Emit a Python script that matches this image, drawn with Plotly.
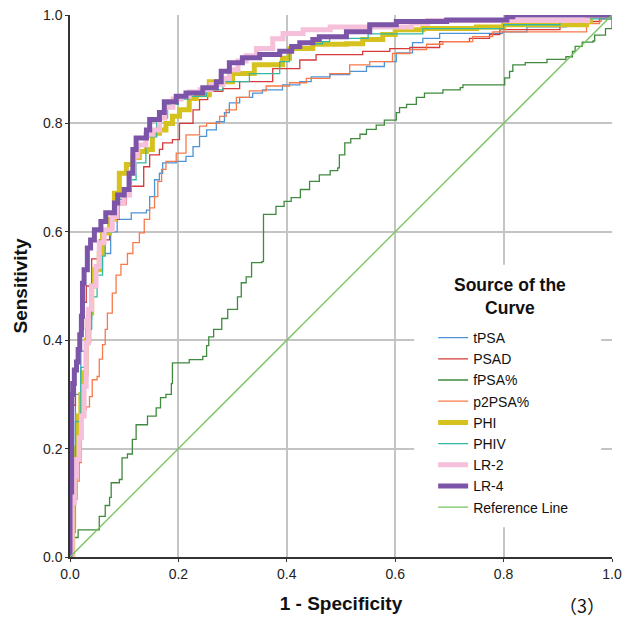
import plotly.graph_objects as go

# ROC coordinates (1 - specificity, sensitivity) for each marker
tpsa_fpr = [0, 0.005, 0.01, 0.02, 0.03, 0.04, 0.05, 0.06, 0.075, 0.087, 0.113, 0.141, 0.147, 0.156, 0.165, 0.171, 0.196, 0.214, 0.227, 0.239, 0.252, 0.27, 0.285, 0.294, 0.313, 0.337, 0.355, 0.392, 0.424, 0.445, 0.48, 0.516, 0.547, 0.58, 0.602, 0.632, 0.651, 0.682, 0.798, 0.843, 0.916, 0.959, 1.0]
tpsa_tpr = [0, 0.2, 0.3, 0.38, 0.44, 0.5, 0.53, 0.56, 0.6, 0.623, 0.635, 0.64, 0.665, 0.696, 0.708, 0.727, 0.73, 0.739, 0.757, 0.776, 0.788, 0.803, 0.82, 0.838, 0.848, 0.856, 0.862, 0.871, 0.877, 0.886, 0.89, 0.896, 0.905, 0.914, 0.93, 0.949, 0.957, 0.966, 0.969, 0.978, 0.988, 0.995, 1.0]

psad_fpr = [0, 0.003, 0.006, 0.01, 0.015, 0.02, 0.025, 0.03, 0.04, 0.054, 0.073, 0.091, 0.104, 0.109, 0.136, 0.147, 0.165, 0.171, 0.189, 0.202, 0.227, 0.239, 0.254, 0.282, 0.313, 0.374, 0.424, 0.454, 0.54, 0.59, 0.627, 0.682, 0.737, 0.774, 0.793, 0.904, 0.977, 1.0]
psad_tpr = [0, 0.15, 0.28, 0.35, 0.38, 0.42, 0.47, 0.5, 0.55, 0.585, 0.623, 0.65, 0.678, 0.684, 0.72, 0.742, 0.752, 0.764, 0.77, 0.8, 0.825, 0.844, 0.859, 0.864, 0.877, 0.901, 0.917, 0.927, 0.933, 0.938, 0.94, 0.951, 0.957, 0.964, 0.973, 0.988, 0.993, 1.0]

fpsa_fpr = [0, 0.008, 0.015, 0.048, 0.054, 0.065, 0.073, 0.076, 0.091, 0.096, 0.106, 0.115, 0.122, 0.141, 0.143, 0.159, 0.167, 0.177, 0.187, 0.189, 0.22, 0.239, 0.245, 0.252, 0.256, 0.265, 0.28, 0.291, 0.305, 0.309, 0.316, 0.325, 0.335, 0.354, 0.357, 0.377, 0.38, 0.395, 0.408, 0.425, 0.442, 0.46, 0.48, 0.494, 0.497, 0.507, 0.518, 0.535, 0.547, 0.565, 0.58, 0.602, 0.608, 0.621, 0.639, 0.654, 0.688, 0.72, 0.725, 0.798, 0.802, 0.811, 0.817, 0.84, 0.88, 0.915, 0.927, 0.932, 0.945, 0.965, 0.968, 0.988, 1.0, 1.0]
fpsa_tpr = [0, 0.036, 0.05, 0.05, 0.075, 0.095, 0.11, 0.137, 0.143, 0.183, 0.19, 0.217, 0.244, 0.244, 0.26, 0.275, 0.294, 0.3, 0.32, 0.358, 0.364, 0.364, 0.37, 0.39, 0.406, 0.42, 0.44, 0.457, 0.457, 0.48, 0.506, 0.517, 0.543, 0.545, 0.632, 0.632, 0.647, 0.656, 0.663, 0.678, 0.693, 0.705, 0.713, 0.718, 0.742, 0.764, 0.772, 0.78, 0.789, 0.797, 0.806, 0.82, 0.829, 0.835, 0.848, 0.856, 0.862, 0.866, 0.871, 0.871, 0.884, 0.896, 0.908, 0.912, 0.918, 0.923, 0.933, 0.942, 0.95, 0.952, 0.963, 0.975, 0.978, 1.0]

p2psa_fpr = [0, 0.004, 0.008, 0.01, 0.013, 0.017, 0.021, 0.023, 0.03, 0.036, 0.041, 0.05, 0.054, 0.06, 0.065, 0.069, 0.078, 0.085, 0.094, 0.106, 0.116, 0.128, 0.137, 0.147, 0.156, 0.162, 0.169, 0.177, 0.196, 0.214, 0.239, 0.252, 0.276, 0.288, 0.307, 0.331, 0.362, 0.405, 0.436, 0.479, 0.516, 0.553, 0.595, 0.627, 0.658, 0.688, 0.743, 0.78, 0.953, 0.977, 0.98, 1.0]
p2psa_tpr = [0, 0.02, 0.045, 0.106, 0.14, 0.174, 0.228, 0.272, 0.277, 0.296, 0.327, 0.333, 0.365, 0.392, 0.42, 0.45, 0.487, 0.52, 0.54, 0.56, 0.58, 0.598, 0.623, 0.644, 0.665, 0.693, 0.715, 0.73, 0.745, 0.779, 0.795, 0.8, 0.813, 0.825, 0.848, 0.86, 0.869, 0.875, 0.883, 0.892, 0.908, 0.914, 0.929, 0.936, 0.946, 0.951, 0.96, 0.969, 0.984, 0.988, 1.0, 1.0]

phi_fpr = [0, 0.005, 0.01, 0.015, 0.02, 0.025, 0.03, 0.035, 0.04, 0.045, 0.054, 0.06, 0.073, 0.082, 0.091, 0.104, 0.116, 0.128, 0.141, 0.152, 0.165, 0.177, 0.189, 0.202, 0.22, 0.233, 0.257, 0.3, 0.34, 0.392, 0.405, 0.448, 0.51, 0.54, 0.577, 0.6, 0.651, 0.75, 0.8, 0.953, 0.96, 1.0]
phi_tpr = [0, 0.12, 0.2, 0.26, 0.3, 0.34, 0.4, 0.45, 0.5, 0.53, 0.56, 0.598, 0.623, 0.671, 0.708, 0.724, 0.737, 0.748, 0.752, 0.782, 0.788, 0.8, 0.813, 0.825, 0.846, 0.853, 0.877, 0.892, 0.908, 0.92, 0.938, 0.946, 0.947, 0.955, 0.964, 0.973, 0.975, 0.978, 0.982, 0.988, 1.0, 1.0]

phiv_fpr = [0, 0.004, 0.01, 0.02, 0.03, 0.04, 0.05, 0.06, 0.065, 0.08, 0.09, 0.1, 0.113, 0.122, 0.14, 0.16, 0.18, 0.2, 0.22, 0.252, 0.282, 0.331, 0.387, 0.405, 0.424, 0.466, 0.479, 0.55, 0.651, 0.8, 0.904, 0.946, 1.0]
phiv_tpr = [0, 0.12, 0.25, 0.35, 0.42, 0.48, 0.52, 0.555, 0.6, 0.63, 0.66, 0.68, 0.696, 0.727, 0.775, 0.81, 0.835, 0.845, 0.85, 0.862, 0.877, 0.892, 0.914, 0.938, 0.947, 0.951, 0.957, 0.965, 0.975, 0.982, 0.988, 0.993, 1.0]

lr2_fpr = [0, 0.004, 0.008, 0.012, 0.017, 0.021, 0.026, 0.03, 0.034, 0.04, 0.048, 0.054, 0.063, 0.078, 0.087, 0.1, 0.11, 0.118, 0.125, 0.14, 0.152, 0.165, 0.175, 0.19, 0.205, 0.22, 0.24, 0.26, 0.282, 0.294, 0.31, 0.325, 0.344, 0.374, 0.393, 0.43, 0.48, 0.63, 0.66, 0.955, 1.0]
lr2_tpr = [0, 0.1, 0.15, 0.18, 0.22, 0.26, 0.315, 0.395, 0.457, 0.5, 0.536, 0.58, 0.604, 0.628, 0.653, 0.668, 0.71, 0.74, 0.76, 0.78, 0.788, 0.81, 0.83, 0.845, 0.85, 0.858, 0.862, 0.872, 0.883, 0.899, 0.915, 0.925, 0.938, 0.956, 0.966, 0.973, 0.978, 0.985, 0.99, 1.0, 1.0]

lr4_fpr = [0, 0.0, 0.003, 0.005, 0.008, 0.012, 0.015, 0.018, 0.021, 0.023, 0.026, 0.032, 0.038, 0.045, 0.057, 0.066, 0.082, 0.088, 0.1, 0.109, 0.116, 0.122, 0.141, 0.147, 0.165, 0.174, 0.196, 0.214, 0.245, 0.27, 0.279, 0.294, 0.318, 0.35, 0.387, 0.409, 0.424, 0.448, 0.46, 0.51, 0.553, 0.602, 0.695, 0.806, 0.817, 1.0]
lr4_tpr = [0, 0.12, 0.3, 0.32, 0.345, 0.36, 0.383, 0.41, 0.444, 0.505, 0.53, 0.57, 0.585, 0.604, 0.619, 0.635, 0.653, 0.668, 0.678, 0.708, 0.752, 0.773, 0.788, 0.807, 0.82, 0.84, 0.85, 0.856, 0.866, 0.877, 0.896, 0.912, 0.921, 0.927, 0.933, 0.942, 0.949, 0.955, 0.96, 0.969, 0.982, 0.988, 0.991, 0.997, 1.0, 1.0]

ref_fpr = [0, 1]
ref_tpr = [0, 1]

axis_ticks = [0.0, 0.2, 0.4, 0.6, 0.8, 1.0]

series = [
    ("tPSA", tpsa_fpr, tpsa_tpr, "#4d93d6", 1.3),
    ("PSAD", psad_fpr, psad_tpr, "#d63a3a", 1.3),
    ("fPSA%", fpsa_fpr, fpsa_tpr, "#3f8a3f", 1.3),
    ("p2PSA%", p2psa_fpr, p2psa_tpr, "#f77a48", 1.3),
    ("PHI", phi_fpr, phi_tpr, "#d6c21f", 5),
    ("PHIV", phiv_fpr, phiv_tpr, "#33b8a2", 1.3),
    ("LR-2", lr2_fpr, lr2_tpr, "#f6c0da", 5),
    ("LR-4", lr4_fpr, lr4_tpr, "#7c54a8", 5),
]

font_family = "Liberation Sans, Arial, sans-serif"

fig = go.Figure()
for name, fx, fy, color, width in series:
    fig.add_trace(go.Scatter(
        x=fx, y=fy, mode="lines", name=name,
        line=dict(color=color, width=width, shape="hv"),
    ))

fig.add_trace(go.Scatter(
    x=ref_fpr, y=ref_tpr, mode="lines", name="Reference Line",
    line=dict(color="#74c45b", width=1.3),
))

axis_common = dict(
    range=[0, 1],
    tickvals=axis_ticks,
    tickformat=".1f",
    showgrid=True,
    gridcolor="#c4c4c4",
    gridwidth=1.5,
    zeroline=False,
    showline=True,
    linecolor="#333333",
    linewidth=1.5,
    ticks="outside",
    ticklen=3,
    tickcolor="#333333",
    tickfont=dict(family=font_family, size=14, color="#222222"),
    automargin=False,
)

fig.update_layout(
    width=625, height=625,
    margin=dict(l=70, r=13, t=15, b=68),
    paper_bgcolor="white",
    plot_bgcolor="white",
    font=dict(family=font_family, color="#111111"),
    xaxis=dict(
        **axis_common,
        title=dict(text="<b>1 - Specificity</b>", font=dict(size=19, family=font_family), standoff=16),
    ),
    yaxis=dict(
        **axis_common,
        title=dict(text="<b>Sensitivity</b>", font=dict(size=19, family=font_family), standoff=10),
    ),
    legend=dict(
        x=0.67, y=0.4336, xanchor="left", yanchor="top",
        bgcolor="rgba(0,0,0,0)", borderwidth=0,
        font=dict(size=14, family=font_family, color="#111111"),
        itemwidth=30,
        tracegroupgap=0,
    ),
    shapes=[dict(
        type="rect", xref="paper", yref="paper",
        x0=0.635, x1=0.98, y0=0.055, y1=0.539,
        fillcolor="white", line=dict(width=0), layer="above",
    )],
    annotations=[
        dict(text="<b>Source of the<br>Curve</b>", xref="paper", yref="paper",
             x=0.811, y=0.4815, xanchor="center", yanchor="middle", showarrow=False,
             font=dict(size=17.5, family=font_family, color="#111111")),
        dict(text="（3）", xref="paper", yref="paper",
             x=0.945, y=-0.0886, xanchor="center", yanchor="middle", showarrow=False,
             font=dict(size=18, family="Noto Sans CJK SC", color="#111111")),
    ],
)

fig.write_html("out.html")
